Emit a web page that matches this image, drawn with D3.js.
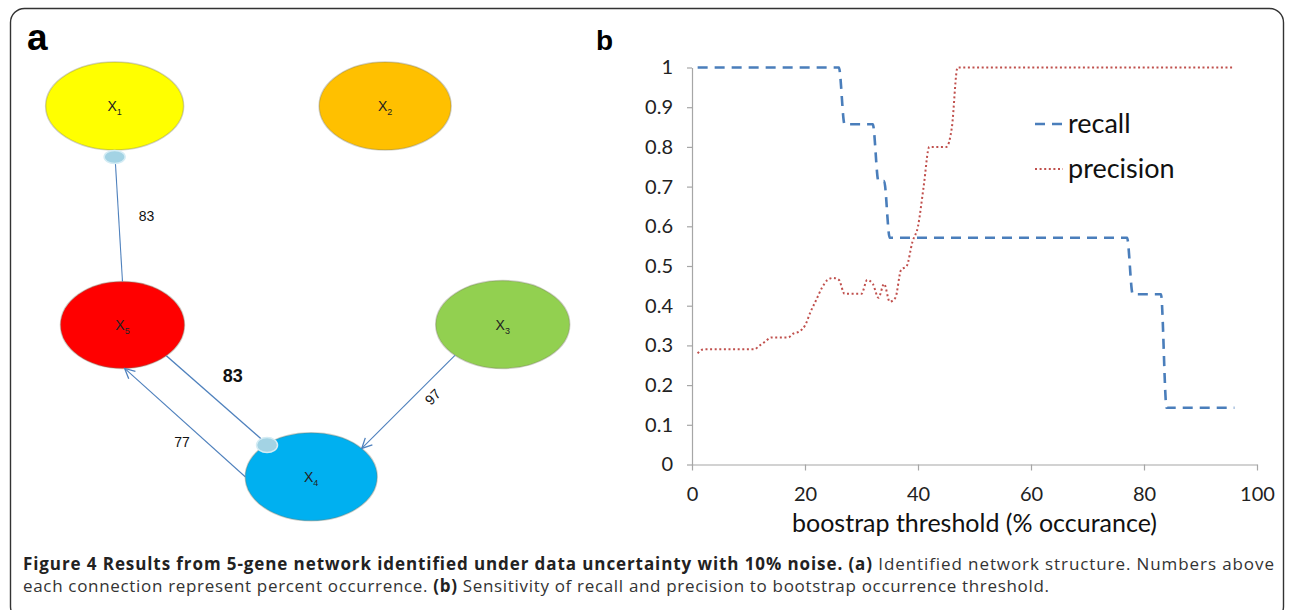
<!DOCTYPE html>
<html>
<head>
<meta charset="utf-8">
<script src="https://cdn.jsdelivr.net/npm/d3@7"></script>
<style>
body{margin:0;background:#fff;}
svg{display:block;}
</style>
</head>
<body>
<svg id="Viz" width="1292" height="610"></svg>
<script>
// ---------- data ----------
// panel a : network
let nodeNames = ["X1", "X2", "X3", "X4", "X5"];
let edgeFrom = ["X5", "X5", "X4", "X3"];
let edgeTo   = ["X1", "X4", "X5", "X4"];
let edgePct  = [83, 83, 77, 97];
let edgeEnd  = ["dot", "dot", "arrow", "arrow"];

// panel b : recall / precision vs bootstrap threshold
let recallThreshold = [1, 26, 27, 32, 33, 34, 35, 77, 78, 83, 84, 96];
let recallValue     = [1, 1, 0.857, 0.857, 0.714, 0.714, 0.571, 0.571, 0.429, 0.429, 0.143, 0.143];
let precisionThreshold = [1, 2, 3, 4, 5, 6, 7, 8, 9, 10, 11, 12, 13, 14, 15, 16, 17, 18, 19, 20,
  21, 22, 23, 24, 25, 26, 27, 28, 29, 30, 31, 32, 33, 34, 35, 36, 37, 38, 39, 40,
  41, 42, 43, 44, 45, 46, 47, 96];
let precisionValue = [0.28, 0.29, 0.29, 0.29, 0.29, 0.29, 0.29, 0.29, 0.29, 0.29, 0.29, 0.30, 0.31, 0.32, 0.32, 0.32, 0.32, 0.33, 0.335, 0.35,
  0.385, 0.415, 0.445, 0.465, 0.47, 0.465, 0.43, 0.43, 0.43, 0.43, 0.465, 0.455, 0.42, 0.455, 0.41, 0.42, 0.49, 0.50, 0.56, 0.60,
  0.70, 0.80, 0.80, 0.80, 0.80, 0.85, 1.0, 1.0];
let yTicks = [0, 0.1, 0.2, 0.3, 0.4, 0.5, 0.6, 0.7, 0.8, 0.9, 1];
let xTicks = [0, 20, 40, 60, 80, 100];
let seriesNames = ["recall", "precision"];

// ---------- layout / style ----------
// node centres in a 0-100 layout grid of panel a
let nodeLayout = {
  X1: {gx: 16.9, gy: 10.0, rx: 69, ry: 44, fill: "#ffff00"},
  X2: {gx: 65.2, gy: 10.0, rx: 66, ry: 44, fill: "#ffc000"},
  X3: {gx: 86.2, gy: 57.5, rx: 67, ry: 44, fill: "#92d050"},
  X4: {gx: 52.0, gy: 90.6, rx: 66, ry: 44, fill: "#00b0f0"},
  X5: {gx: 18.3, gy: 57.6, rx: 62, ry: 43.5, fill: "#ff0000"}
};
let edgeAngles = [[-90, 90], [45, -132], [180, 88], [135.5, -40]];
let edgeLabelOff = [[28, 0], [16, -24], [-3, 19], [24.5, -5]];
let edgeLabelSize = [14, 18, 14, 14];
let edgeLabelBold = [false, true, false, false];
let edgeLabelRot = [0, 0, 0, -45];

let lineBlue = "#4f81bd";
let recallColor = "#4a7ebb";
let precColor = "#c0504d";

let svg = d3.select("#Viz");

// outer frame
svg.append("rect")
  .attr("x", 10.5).attr("y", 8.5)
  .attr("width", 1273).attr("height", 612)
  .attr("rx", 14)
  .attr("fill", "none")
  .attr("stroke", "#333")
  .attr("stroke-width", 1.4);

// panel letters
svg.append("text").attr("x", 27).attr("y", 50)
  .attr("font-family", "Liberation Sans, Arial, sans-serif")
  .attr("font-weight", "bold").attr("font-size", 37).text("a");
svg.append("text").attr("x", 596).attr("y", 50)
  .attr("font-family", "Liberation Sans, Arial, sans-serif")
  .attr("font-weight", "bold").attr("font-size", 28).text("b");

// ================= panel a =================
let xA = d3.scaleLinear().domain([0, 100]).range([20, 580]);
let yA = d3.scaleLinear().domain([0, 100]).range([60, 520]);

function onEllipse(name, deg) {
  let n = nodeLayout[name];
  let t = deg * Math.PI / 180;
  return [xA(n.gx) + n.rx * Math.cos(t), yA(n.gy) + n.ry * Math.sin(t)];
}

let defs = svg.append("defs");
defs.append("marker")
  .attr("id", "arrow")
  .attr("viewBox", "0 0 12 12")
  .attr("refX", 11).attr("refY", 6)
  .attr("markerWidth", 12).attr("markerHeight", 12)
  .attr("markerUnits", "userSpaceOnUse")
  .attr("orient", "auto")
  .append("path")
  .attr("d", "M1,1 L11,6 L1,11")
  .attr("fill", "none")
  .attr("stroke", lineBlue)
  .attr("stroke-width", 1.3);

let gA = svg.append("g");

// nodes
gA.selectAll("ellipse.node")
  .data(nodeNames)
  .enter()
  .append("ellipse")
  .attr("class", "node")
  .attr("cx", d => xA(nodeLayout[d].gx))
  .attr("cy", d => yA(nodeLayout[d].gy))
  .attr("rx", d => nodeLayout[d].rx)
  .attr("ry", d => nodeLayout[d].ry)
  .attr("fill", d => nodeLayout[d].fill)
  .attr("stroke", "rgba(120,120,100,0.35)")
  .attr("stroke-width", 1.5);

let nodeText = gA.selectAll("text.nlab")
  .data(nodeNames)
  .enter()
  .append("text")
  .attr("class", "nlab")
  .attr("x", d => xA(nodeLayout[d].gx))
  .attr("y", d => yA(nodeLayout[d].gy) + 5)
  .attr("text-anchor", "middle")
  .attr("font-family", "Liberation Sans, Arial, sans-serif")
  .attr("font-size", 14)
  .attr("fill", "#222");
nodeText.append("tspan").text("X");
nodeText.append("tspan").attr("dy", 4).attr("font-size", 9).text(d => d.slice(1));

// edges
let edges = edgeFrom.map((f, i) => ({
  from: f, to: edgeTo[i], pct: edgePct[i], end: edgeEnd[i],
  p0: onEllipse(f, edgeAngles[i][0]),
  p1: onEllipse(edgeTo[i], edgeAngles[i][1]),
  i: i
}));

gA.selectAll("line.edge")
  .data(edges)
  .enter()
  .append("line")
  .attr("class", "edge")
  .attr("x1", d => d.p0[0]).attr("y1", d => d.p0[1])
  .attr("x2", d => d.p1[0]).attr("y2", d => d.p1[1])
  .attr("stroke", lineBlue)
  .attr("stroke-width", d => d.i === 1 ? 1.4 : 1.1)
  .attr("marker-end", d => d.end === "arrow" ? "url(#arrow)" : null);

// oval end markers
gA.selectAll("ellipse.dot")
  .data(edges.filter(d => d.end === "dot"))
  .enter()
  .append("ellipse")
  .attr("class", "dot")
  .attr("cx", d => d.p1[0])
  .attr("cy", d => d.p1[1] + (d.to === "X1" ? 7 : 1))
  .attr("rx", 10.5)
  .attr("ry", d => d.to === "X1" ? 6.5 : 7.5)
  .attr("fill", "#a3d3e4")
  .attr("stroke", "#d4ecf4")
  .attr("stroke-width", 1.5);

// edge labels
gA.selectAll("text.elab")
  .data(edges)
  .enter()
  .append("text")
  .attr("class", "elab")
  .attr("transform", d => {
    let mx = (d.p0[0] + d.p1[0]) / 2 + edgeLabelOff[d.i][0];
    let my = (d.p0[1] + d.p1[1]) / 2 + edgeLabelOff[d.i][1];
    return "translate(" + mx + "," + my + ") rotate(" + edgeLabelRot[d.i] + ")";
  })
  .attr("text-anchor", "middle")
  .attr("dy", "0.35em")
  .attr("font-family", "Liberation Sans, Arial, sans-serif")
  .attr("font-size", d => edgeLabelSize[d.i])
  .attr("font-weight", d => edgeLabelBold[d.i] ? "bold" : "normal")
  .attr("fill", "#111")
  .text(d => d.pct);

// ================= panel b =================
let xB = d3.scaleLinear().domain([0, 100]).range([692, 1257]);
let yB = d3.scaleLinear().domain([0, 1]).range([464.5, 67.5]);
let chartFont = "Lato, 'Open Sans', sans-serif";

let yAxis = svg.append("g")
  .attr("transform", "translate(" + xB(0) + ",0)")
  .call(d3.axisLeft(yB).tickValues(yTicks).tickFormat(d3.format("~g"))
    .tickSize(5).tickSizeOuter(0).tickPadding(14));
let xAxis = svg.append("g")
  .attr("transform", "translate(0," + yB(0) + ")")
  .call(d3.axisBottom(xB).tickValues(xTicks).tickSize(6).tickSizeOuter(0).tickPadding(16));

[yAxis, xAxis].forEach(ax => {
  ax.selectAll("path, line").attr("stroke", "#a6a6a6").attr("stroke-width", 1.2);
  ax.selectAll("text").attr("font-family", chartFont).attr("font-size", 20).attr("fill", "#222");
});

let recallLine = d3.line()
  .x((d, i) => xB(recallThreshold[i]))
  .y(d => yB(d))
  .curve(d3.curveMonotoneX);
let precLine = d3.line()
  .x((d, i) => xB(precisionThreshold[i]))
  .y(d => yB(d))
  .curve(d3.curveMonotoneX);

svg.append("path")
  .datum(recallValue)
  .attr("d", recallLine)
  .attr("fill", "none")
  .attr("stroke", recallColor)
  .attr("stroke-width", 2.6)
  .attr("stroke-dasharray", "10,7");

svg.append("path")
  .datum(precisionValue)
  .attr("d", precLine)
  .attr("fill", "none")
  .attr("stroke", precColor)
  .attr("stroke-width", 2)
  .attr("stroke-dasharray", "2,2.6");

// legend
let legY = d3.scaleOrdinal().domain(seriesNames).range([124, 169]);
let leg = svg.append("g");
leg.selectAll("line")
  .data(seriesNames)
  .enter()
  .append("line")
  .attr("x1", 1035).attr("x2", 1063)
  .attr("y1", d => legY(d)).attr("y2", d => legY(d))
  .attr("stroke", d => d === "recall" ? recallColor : precColor)
  .attr("stroke-width", d => d === "recall" ? 2.6 : 2)
  .attr("stroke-dasharray", d => d === "recall" ? "10,7" : "2,2.6");
leg.selectAll("text")
  .data(seriesNames)
  .enter()
  .append("text")
  .attr("x", 1068)
  .attr("y", d => legY(d) + 9)
  .attr("font-family", chartFont)
  .attr("font-size", 27)
  .attr("fill", "#111")
  .text(d => d);

svg.append("text")
  .attr("x", (xB(0) + xB(100)) / 2)
  .attr("y", 532)
  .attr("text-anchor", "middle")
  .attr("font-family", chartFont)
  .attr("font-size", 25)
  .attr("fill", "#111")
  .text("boostrap threshold (% occurance)");

// ================= caption =================
let capFont = "'Open Sans', sans-serif";
function fitWidth(sel, target) {
  let n = sel.node();
  let len = n.getComputedTextLength();
  let chars = n.textContent.length;
  sel.attr("letter-spacing", ((target - len) / (chars - 1)).toFixed(3));
}
let cap1 = svg.append("text").attr("x", 23).attr("y", 570)
  .attr("font-family", capFont).attr("font-size", 17).attr("fill", "#222");
cap1.append("tspan").attr("font-weight", "bold")
  .text("Figure 4 Results from 5-gene network identified under data uncertainty with 10% noise. (a)");
cap1.append("tspan").attr("fill", "#333").text(" Identified network structure. Numbers above");
fitWidth(cap1, 1251);

let cap2 = svg.append("text").attr("x", 23).attr("y", 592)
  .attr("font-family", capFont).attr("font-size", 17).attr("fill", "#333");
cap2.append("tspan").text("each connection represent percent occurrence. ");
cap2.append("tspan").attr("font-weight", "bold").attr("fill", "#222").text("(b)");
cap2.append("tspan").text(" Sensitivity of recall and precision to bootstrap occurrence threshold.");
fitWidth(cap2, 1026);
</script>
</body>
</html>
